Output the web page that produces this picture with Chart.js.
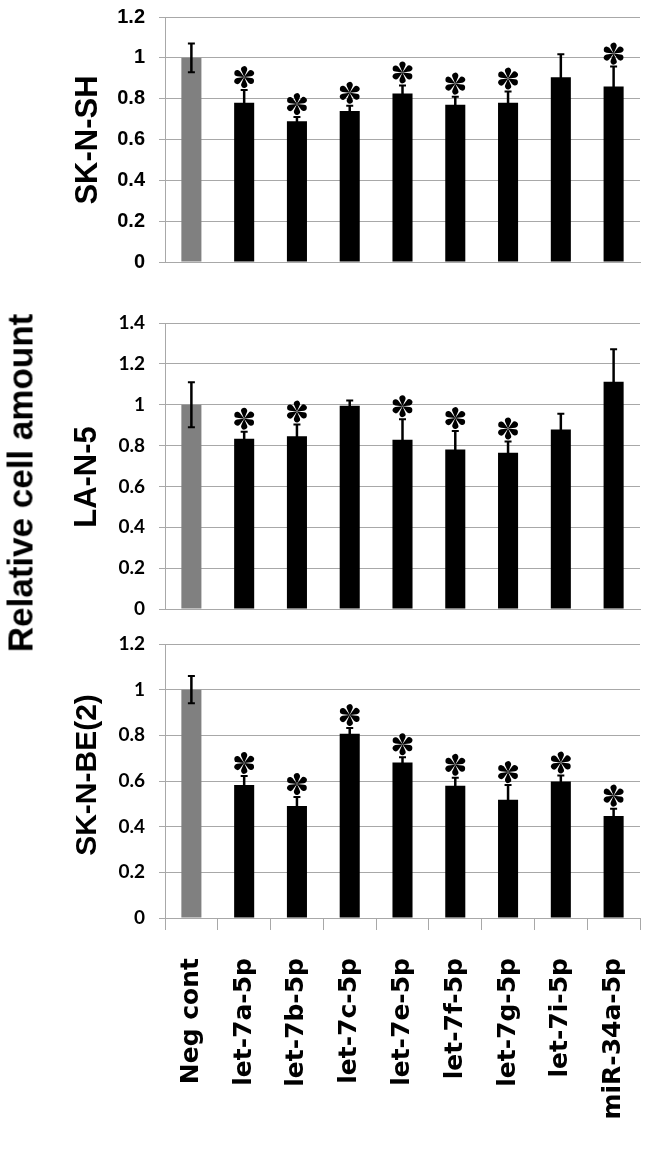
<!DOCTYPE html>
<html>
<head>
<meta charset="utf-8">
<script src="https://cdn.jsdelivr.net/npm/chart.js@4.4.0/dist/chart.umd.min.js"></script>
<style>
  html, body { margin: 0; padding: 0; background: #fff; }
  #wrap { position: relative; width: 646px; height: 1172px; overflow: hidden; }
  canvas { position: absolute; left: 0; }
  .vlabel {
    position: absolute;
    transform: translate(-50%, -50%) rotate(-90deg);
    white-space: nowrap;
    line-height: 1;
    font-family: "Liberation Sans", Arial, sans-serif;
    font-weight: bold;
    color: #000;
  }
</style>
</head>
<body>
<div id="wrap">
  <canvas id="c1" style="top:0px"></canvas>
  <canvas id="c2" style="top:300px"></canvas>
  <canvas id="c3" style="top:625px"></canvas>
  <div class="vlabel" style="left:20px; top:483px; font-size:35px;">Relative cell amount</div>
  <div class="vlabel" style="left:86px; top:140px; font-size:31px;">SK-N-SH</div>
  <div class="vlabel" style="left:85px; top:477px; font-size:31px;">LA-N-5</div>
  <div class="vlabel" style="left:86px; top:775px; font-size:30px;">SK-N-BE(2)</div>
</div>
<script>
const categories = ["Neg cont", "let-7a-5p", "let-7b-5p", "let-7c-5p", "let-7e-5p",
  "let-7f-5p", "let-7g-5p", "let-7i-5p", "miR-34a-5p"]

// SK-N-SH
const skNShValues = [1.0, 0.78, 0.69, 0.74, 0.825, 0.77, 0.78, 0.905, 0.86]
const skNShErrors = [0.07, 0.062, 0.02, 0.025, 0.04, 0.04, 0.055, 0.113, 0.097]
const skNShStars  = [0, 1, 1, 1, 1, 1, 1, 0, 1]

// LA-N-5
const laN5Values = [1.0, 0.833, 0.846, 0.995, 0.829, 0.781, 0.765, 0.879, 1.112]
const laN5Errors = [0.11, 0.035, 0.057, 0.026, 0.1, 0.09, 0.055, 0.077, 0.16]
const laN5Stars  = [0, 1, 1, 0, 1, 1, 1, 0, 0]

// SK-N-BE(2)
const skNBe2Values = [1.0, 0.582, 0.49, 0.807, 0.681, 0.579, 0.518, 0.598, 0.447]
const skNBe2Errors = [0.06, 0.04, 0.04, 0.025, 0.023, 0.035, 0.064, 0.026, 0.032]
const skNBe2Stars  = [0, 1, 1, 1, 1, 1, 1, 1, 1]

const yTicksStep = 0.2

const gridColor = "#a8a8a8"

// six teardrop petals, points toward the centre
function drawStar(ctx, cx, cy) {
  const d = 7.8, r = 3.1
  const c = Math.acos(r / d)
  for (let k = 0; k < 6; k++) {
    const a = -Math.PI / 2 + k * Math.PI / 3
    const px = cx + d * Math.cos(a), py = cy + d * Math.sin(a)
    ctx.beginPath()
    ctx.moveTo(cx, cy)
    ctx.arc(px, py, r, a + Math.PI + c, a + Math.PI - c, false)
    ctx.closePath()
    ctx.fill()
  }
}

const errorBarPlugin = {
  id: "errorBars",
  afterDatasetsDraw(chart) {
    const ctx = chart.ctx
    const y = chart.scales.y
    const ds = chart.data.datasets[0]
    const meta = chart.getDatasetMeta(0)
    ctx.save()
    ctx.strokeStyle = "#000"
    ctx.fillStyle = "#000"
    meta.data.forEach((bar, i) => {
      const v = ds.data[i], e = ds.errors[i]
      const top = y.getPixelForValue(v + e)
      const bot = y.getPixelForValue(v - e)
      ctx.lineWidth = 2.5
      ctx.beginPath()
      ctx.moveTo(bar.x, top)
      ctx.lineTo(bar.x, bot)
      ctx.stroke()
      ctx.lineWidth = 2
      ctx.beginPath()
      ctx.moveTo(bar.x - 3.5, top)
      ctx.lineTo(bar.x + 3.5, top)
      ctx.moveTo(bar.x - 3.5, bot)
      ctx.lineTo(bar.x + 3.5, bot)
      ctx.stroke()
      if (ds.stars[i]) drawStar(ctx, bar.x, top - 13)
    })
    ctx.restore()
  }
}

function makeChart(id, height, values, errors, stars, yMax, o) {
  const canvas = document.getElementById(id)
  canvas.width = 646
  canvas.height = height
  canvas.style.width = "646px"
  canvas.style.height = height + "px"

  return new Chart(canvas.getContext("2d"), {
    type: "bar",
    data: {
      labels: categories,
      datasets: [{
        data: values,
        errors: errors,
        stars: stars,
        backgroundColor: categories.map((c, i) => i === 0 ? "#808080" : "#000000"),
        borderWidth: 0,
        barPercentage: 0.38,
        categoryPercentage: 1.0
      }]
    },
    options: {
      responsive: false,
      animation: false,
      layout: { padding: { top: o.padTop, right: 6, left: 0, bottom: 0 } },
      plugins: {
        legend: { display: false },
        tooltip: { enabled: false }
      },
      scales: {
        x: {
          afterFit: (scale) => {
            scale.height = o.xHeight
            scale.paddingLeft = 0
            scale.paddingRight = 0
          },
          border: { display: true, color: gridColor, width: 1 },
          grid: o.showLabels
            ? { display: true, drawOnChartArea: false, offset: true, tickLength: 12, color: gridColor }
            : { display: false },
          ticks: o.showLabels
            ? {
                display: true,
                autoSkip: false,
                maxRotation: 90,
                minRotation: 90,
                padding: 28,
                color: "#000",
                font: { family: "DejaVu Sans", weight: "bold", size: 25 }
              }
            : { display: false }
        },
        y: {
          min: 0,
          max: yMax,
          afterFit: (scale) => {
            scale.width = 165
            scale.paddingTop = 0
            scale.paddingBottom = 0
          },
          border: { display: true, color: gridColor, width: 1 },
          grid: { color: gridColor, tickLength: 6, lineWidth: 1 },
          ticks: {
            stepSize: yTicksStep,
            padding: 14,
            color: "#000",
            font: o.tickFont,
            callback: (v) => String(Number(v.toFixed(1)))
          }
        }
      }
    },
    plugins: [errorBarPlugin]
  })
}

makeChart("c1", 280, skNShValues, skNShErrors, skNShStars, 1.2, {
  padTop: 17, xHeight: 18, showLabels: false,
  tickFont: { family: "Liberation Sans", weight: "bold", size: 20 }
})
makeChart("c2", 320, laN5Values, laN5Errors, laN5Stars, 1.4, {
  padTop: 23, xHeight: 11, showLabels: false,
  tickFont: { family: "Lato", weight: "bold", size: 19 }
})
makeChart("c3", 547, skNBe2Values, skNBe2Errors, skNBe2Stars, 1.2, {
  padTop: 19, xHeight: 254, showLabels: true,
  tickFont: { family: "Lato", weight: "bold", size: 19 }
})
</script>
</body>
</html>
